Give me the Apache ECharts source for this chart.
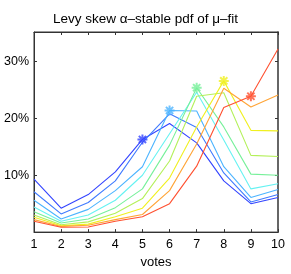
<!DOCTYPE html>
<html><head><meta charset="utf-8">
<script src="https://cdn.jsdelivr.net/npm/echarts@6/dist/echarts.min.js"></script>
<style>html,body{margin:0;padding:0;background:#fff}#c{width:291px;height:274px}</style>
</head><body><div id="c"></div>
<script>
var votes = [1,2,3,4,5,6,7,8,9,10];
var xTickLabels = ['1','2','3','4','5','6','7','8','9','10'];
var yTicks = [10,20,30];
// percent values for each fitted curve (blue -> red)
var s1 = [9.3,4.2,6.6,10.6,16.3,19.1,15.7,9.0,5.0,6.1];
var s2 = [7.1,3.2,5.2,9.0,15.8,20.8,18.4,10.4,5.3,6.6];
var s3 = [5.6,2.3,4.0,7.3,11.5,21.4,21.3,11.5,6.1,7.5];
var s4 = [4.4,1.9,3.0,5.6,10.0,17.3,24.6,16.2,7.6,8.5];
var s5 = [3.6,1.6,2.3,4.3,7.6,15.3,25.4,18.5,10.2,10.0];
var s6 = [3.0,1.3,1.8,3.3,5.9,12.5,23.9,24.5,13.5,13.3];
var s7 = [2.6,1.1,1.4,2.7,4.2,9.5,18.5,26.6,17.9,17.8];
var s8 = [2.2,1.0,1.2,2.2,3.1,7.3,15.5,25.3,22.0,24.1];
var s9 = [1.9,0.85,0.9,1.9,2.7,5.0,11.6,21.9,23.9,32.2];
var curves = [s1,s2,s3,s4,s5,s6,s7,s8,s9];
var colors = ['#3344ff','#3f7aff','#4cb4ff','#66f2f2','#77f09a','#b4f05a','#f0f020','#ffa436','#ff5030'];
// marker: [curve index, vote]
var markers = [[0,5],[2,6],[4,7],[6,8],[8,9]];

var star = 'path://M0,-5L0,5M-5,0L5,0M-3.6,-3.6L3.6,3.6M-3.6,3.6L3.6,-3.6';
var series = [];
curves.forEach(function(arr,i){
  series.push({type:'line', xAxisIndex:0, yAxisIndex:0, data: votes.map(function(v,j){return [v, arr[j]];}),
    showSymbol:false, symbol:'none', lineStyle:{color:colors[i], width:1.1}, silent:true, z:2+i, animation:false});
});
markers.forEach(function(m){
  var i=m[0], v=m[1];
  series.push({type:'scatter', xAxisIndex:0, yAxisIndex:0, data:[[v, curves[i][votes.indexOf(v)]]], symbol:star, symbolSize:10,
    itemStyle:{color:'rgba(0,0,0,0)', borderColor:colors[i], borderWidth:2}, z:20, animation:false});
});
// invisible helper series so the top/right mirror axes are drawn
series.push({type:'line', xAxisIndex:1, yAxisIndex:1, data:[], silent:true});
var font = 'Liberation Sans';
var axisCol = '#333';
var chart = echarts.init(document.getElementById('c'), null, {renderer:'canvas'});
chart.setOption({
  animation:false,
  title:{text:'Levy skew \u03b1\u2013stable pdf of \u03bc\u2013fit', left:'center', top:7,
    textStyle:{fontFamily:font, fontSize:13.5, fontWeight:'normal', color:'#000'}},
  grid:{left:34, right:13, top:32, bottom:37, show:true, borderColor:axisCol, borderWidth:1, backgroundColor:'rgba(0,0,0,0)'},
  xAxis:[{type:'value', min:1, max:10, interval:1, name:'votes', nameLocation:'middle', nameGap:23,
      nameTextStyle:{fontFamily:font, fontSize:13, color:'#000'},
      axisLine:{onZero:false, lineStyle:{color:axisCol}}, axisTick:{inside:true, length:3, lineStyle:{color:axisCol}},
      axisLabel:{fontFamily:font, fontSize:12.5, color:'#000', margin:6,
        formatter:function(v){var k=votes.indexOf(v);return k>=0?xTickLabels[k]:'';}},
      splitLine:{show:false}},
    {type:'value', position:'top', min:1, max:10, interval:1, show:true,
      axisLine:{show:true, onZero:false, lineStyle:{color:axisCol}}, axisTick:{show:true, inside:true, length:3, lineStyle:{color:axisCol}},
      axisLabel:{show:false}, splitLine:{show:false}}],
  yAxis:[{type:'value', min:0, max:35.2, interval:10,
      axisLine:{show:true, onZero:false, lineStyle:{color:axisCol}},
      axisTick:{show:true, inside:true, length:3, lineStyle:{color:axisCol}},
      axisLabel:{fontFamily:font, fontSize:12.5, color:'#000', margin:5,
        formatter:function(v){return yTicks.indexOf(v)>=0? v+'%':'';}},
      splitLine:{show:false}},
    {type:'value', position:'right', min:0, max:35.2, interval:10, show:true,
      axisLine:{show:true, onZero:false, lineStyle:{color:'#666', width:2}},
      axisTick:{show:true, inside:true, length:3, lineStyle:{color:axisCol}},
      axisLabel:{show:false}, splitLine:{show:false}}],
  series: series
});
</script></body></html>
